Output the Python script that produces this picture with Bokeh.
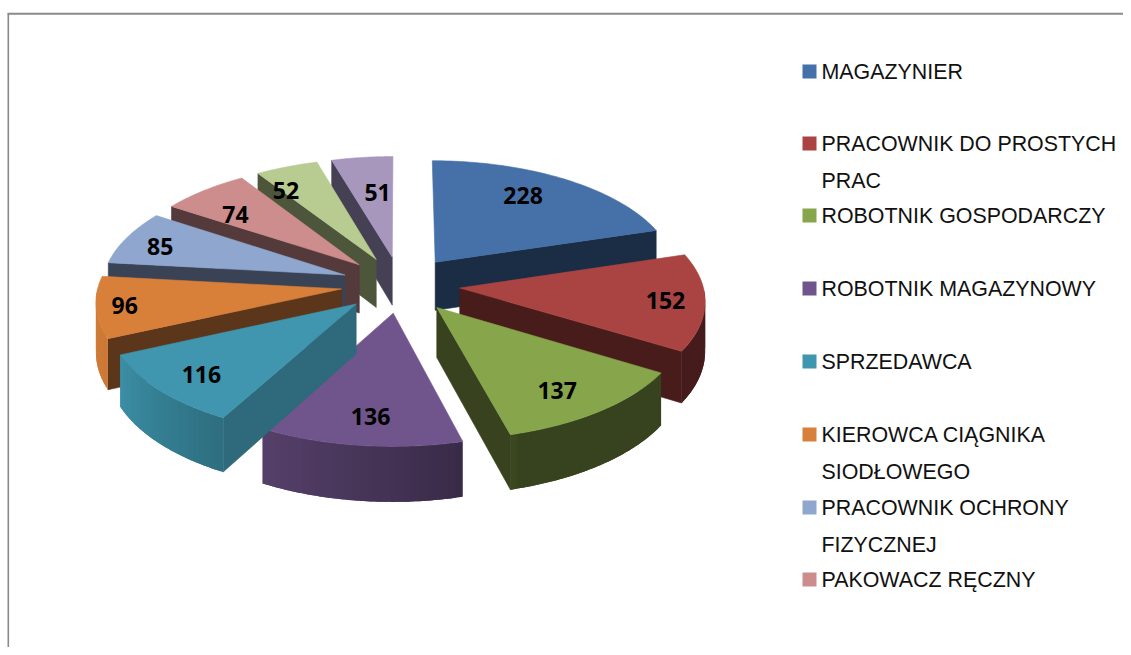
import numpy as np
from bokeh.plotting import figure
from bokeh.core.properties import value
from bokeh.embed import file_html
from bokeh.resources import INLINE

# ---- data ----
values = [228, 152, 137, 136, 116, 96, 85, 74, 52, 51]
categories = ["MAGAZYNIER", "PRACOWNIK DO PROSTYCH PRAC", "ROBOTNIK GOSPODARCZY",
              "ROBOTNIK MAGAZYNOWY", "SPRZEDAWCA", "KIEROWCA CIĄGNIKA SIODŁOWEGO",
              "PRACOWNIK OCHRONY FIZYCZNEJ", "PAKOWACZ RĘCZNY"]
legend_lines = [["MAGAZYNIER"], ["PRACOWNIK DO PROSTYCH", "PRAC"], ["ROBOTNIK GOSPODARCZY"],
                ["ROBOTNIK MAGAZYNOWY"], ["SPRZEDAWCA"], ["KIEROWCA CIĄGNIKA", "SIODŁOWEGO"],
                ["PRACOWNIK OCHRONY", "FIZYCZNEJ"], ["PAKOWACZ RĘCZNY"]]
top_colors = ["#4671A8", "#A94442", "#87A54A", "#70548C", "#3F96AE",
              "#D8803A", "#8FA6CE", "#CD8D8D", "#B8CC92", "#A797BD"]
radial_colors = ["#1A2D45", "#481C1A", "#38421E", "#3A2A4A", "#2E6A7C",
                 "#5C361A", "#3A4355", "#553A3B", "#4D553B", "#464055"]
label_radius = [.752, .84, .79, .80, .81, .885, .83, .724, .78, .63]
label_turn = [-4.4, 0, 2.3, -1, -1, 0, -2, -4.5, -7, 2]

# ---- projection of the tilted pie onto the page ----
CX, CY, A, B, K, H, EXPL = 400.0, 284.0, 243.0, 115.0, 0.094, 49.0, 0.245


def project(X, Z, drop=0.0):
    X, Z = np.asarray(X, float), np.asarray(Z, float)
    s = 1.0 / (1.0 - K * Z)
    return CX + A * X * s, CY + B * Z * s + drop * s


def rgb(c):
    return np.array([int(c[i:i + 2], 16) for i in (1, 3, 5)], float)


def shade(c, f):
    r = np.clip(rgb(c) * f, 0, 255).astype(int)
    return "#%02x%02x%02x" % tuple(r)


def rim_factor(t):
    return float(np.interp(t, [90, 164, 166, 208, 209, 245, 270],
                           [.41, .41, .52, .76, .74, .95, .97]))


W, Hh = 1123, 647
p = figure(width=W, height=Hh, x_range=(0, W), y_range=(Hh, 0),
           output_backend="svg", toolbar_location=None, min_border=0,
           outline_line_color=None, background_fill_color="white")
p.axis.visible = False
p.grid.visible = False

# chart frame
p.line([7, W], [13.3, 13.3], line_color="#8a8a8a", line_width=2)
p.line([7.8, 7.8], [13, Hh], line_color="#8a8a8a", line_width=1.6)

total = sum(values)
edges = np.concatenate([[0], np.cumsum(values)]) / total * 360.0
mids = (edges[:-1] + edges[1:]) / 2
offset_x = EXPL * np.sin(np.radians(mids))
offset_z = -EXPL * np.cos(np.radians(mids))

xs, ys, cols, alphas = [], [], [], []


def add(px, py, col, stroke=1.0):
    xs.append(list(px))
    ys.append(list(py))
    cols.append(col)
    alphas.append(stroke)


order = [0, 9, 8, 7, 6, 1, 5, 2, 3, 4]
for i in order:
    t0, t1 = edges[i], edges[i + 1]
    ox, oz = offset_x[i], offset_z[i]
    th = np.radians(np.linspace(t0, t1, 60))
    rx, rz = ox + np.sin(th), oz - np.cos(th)
    # radial walls
    if np.sin(np.radians(t1)) > 0.01:
        X = [ox, rx[-1], rx[-1], ox]
        Z = [oz, rz[-1], rz[-1], oz]
        px0, py0 = project(X[:2], Z[:2])
        px1, py1 = project(X[2:], Z[2:], H)
        add(np.r_[px0, px1], np.r_[py0, py1], radial_colors[i])
    if np.sin(np.radians(t0)) < -0.01:
        X = [ox, rx[0], rx[0], ox]
        Z = [oz, rz[0], rz[0], oz]
        px0, py0 = project(X[:2], Z[:2])
        px1, py1 = project(X[2:], Z[2:], H)
        add(np.r_[px0, px1], np.r_[py0, py1], radial_colors[i])
    # outer wall, in thin overlapping strips for the shading
    a0, a1 = max(t0, 90.0), min(t1, 270.0)
    if a1 > a0:
        cuts = np.linspace(a0, a1, max(2, int((a1 - a0) / 1.5) + 1))
        for u, v in zip(cuts[:-1], cuts[1:]):
            seg = np.radians(np.linspace(u, min(v + 1.5, a1), 5))
            sx, sz = ox + np.sin(seg), oz - np.cos(seg)
            px0, py0 = project(sx, sz)
            px1, py1 = project(sx[::-1], sz[::-1], H)
            add(np.r_[px0, px1], np.r_[py0, py1], shade(top_colors[i], rim_factor((u + v) / 2)), 0.0)
    # top face
    px, py = project(np.r_[ox, rx], np.r_[oz, rz])
    add(px, py, top_colors[i])

p.patches(xs, ys, fill_color=cols, line_color=cols, line_alpha=alphas, line_width=0.6)

# data labels
la = np.radians(mids + np.array(label_turn))
lx = offset_x + np.array(label_radius) * np.sin(la)
lz = offset_z - np.array(label_radius) * np.cos(la)
lpx, lpy = project(lx, lz)
p.text(list(lpx), list(lpy), text=[str(v) for v in values], text_font=value("Open Sans"),
       text_font_style="bold", text_font_size="23px", text_color="#000000",
       text_align="center", text_baseline="middle")

# legend (rows with the wrapped names)
row_y = [71, 143, 215, 288, 361, 434, 507, 579]
line_gap = 37
p.rect([809] * len(row_y), row_y, width=14, height=14, fill_color=top_colors[:len(row_y)],
       line_color=None)
tx, ty, tt = [], [], []
for y, lines in zip(row_y, legend_lines):
    for j, s in enumerate(lines):
        tx.append(821)
        ty.append(y + j * line_gap)
        tt.append(s)
p.text(tx, ty, text=tt, text_font=value("Liberation Sans"), text_font_size="21.4px",
       text_color="#111111", text_align="left", text_baseline="middle")

open("out.html", "w").write(file_html(p, INLINE))
